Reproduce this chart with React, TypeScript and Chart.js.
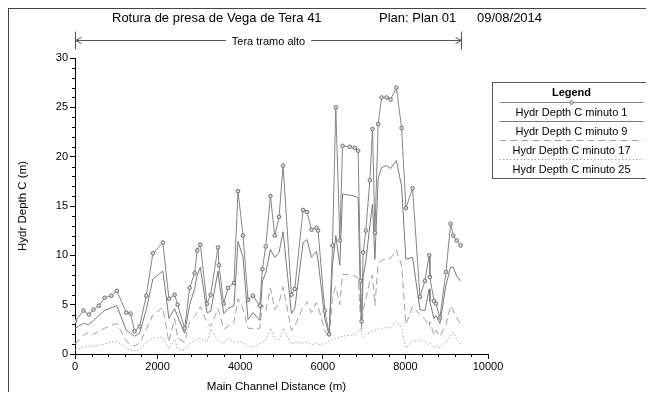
import React, { useEffect, useRef } from 'react';
import { Chart, registerables } from 'chart.js';

Chart.register(...registerables);

// Main channel distance (m) of each cross-section
const distances = [
  0, 206, 335, 448, 577, 715, 878, 1013, 1241, 1345, 1442, 1564, 1726, 1886, 2128, 2274, 2412, 2485, 2655, 2776,
  2897, 2958, 3035, 3195, 3285, 3462, 3486, 3600, 3704, 3850, 3947, 4068, 4189, 4310, 4473, 4538, 4618, 4732, 4836, 4941,
  5038, 5241, 5321, 5523, 5619, 5726, 5847, 5886, 6048, 6153, 6235, 6315, 6412, 6478, 6655, 6776, 6856, 6914, 6938, 6977,
  7042, 7139, 7204, 7261, 7341, 7423, 7544, 7641, 7782, 7908, 8012, 8174, 8352, 8473, 8577, 8594, 8691, 8739, 8836, 8982,
  9095, 9159, 9241, 9338,
];

const depthMin1 = [
  3.3, 4.4, 4.0, 4.5, 4.9, 5.7, 5.9, 6.4, 4.2, 4.1, 2.3, 2.8, 5.9, 10.2, 11.3, 5.6, 6.0, 5.0, 2.6, 6.7,
  8.2, 10.5, 11.1, 5.1, 6.0, 10.8, 9.0, 5.1, 6.7, 7.2, 16.5, 12.0, 5.5, 5.9, 4.9, 8.6, 10.9, 16.0, 12.0, 13.9,
  19.1, 6.0, 6.6, 14.6, 14.4, 12.6, 12.8, 12.5, 4.4, 2.0, 11.0, 25.0, 11.5, 21.1, 21.0, 20.9, 20.6, 7.4, 3.3, 10.3,
  12.5, 17.6, 22.8, 12.3, 23.3, 26.0, 26.0, 25.8, 27.0, 22.9, 14.8, 16.8, 5.8, 7.4, 10.0, 7.8, 5.4, 5.1, 3.7, 8.3,
  13.2, 12.0, 11.5, 11.0,
];

const depthMin9 = [
  2.6, 3.1, 3.0, 3.4, 3.9, 4.4, 4.7, 4.9, 2.4, 2.1, 1.8, 2.1, 4.5, 7.6, 8.4, 3.6, 4.6, 3.8, 2.1, 5.0,
  6.6, 8.0, 8.8, 4.2, 4.3, 8.4, 7.5, 4.1, 4.6, 4.9, 11.4, 9.8, 3.5, 4.2, 3.4, 7.4, 8.2, 10.6, 9.8, 10.3,
  12.4, 4.1, 4.6, 11.3, 11.6, 9.8, 10.4, 9.5, 3.6, 1.9, 9.0, 12.0, 9.0, 16.2, 16.1, 16.0, 15.8, 5.2, 2.9, 7.8,
  9.4, 13.0, 15.2, 9.6, 17.8, 18.9, 19.1, 18.8, 19.6, 17.0, 9.6, 9.8, 4.5, 4.4, 6.6, 5.3, 3.6, 3.9, 3.1, 7.0,
  8.8, 8.8, 7.9, 7.4,
];

const depthMin17 = [
  1.0, 1.9, 2.2, 2.0, 2.3, 2.6, 2.9, 3.1, 1.3, 1.0, 0.8, 1.1, 2.5, 4.0, 4.7, 1.2, 3.6, 1.6, 1.2, 3.3,
  3.8, 4.2, 4.8, 3.2, 2.8, 4.6, 4.3, 2.5, 2.8, 3.2, 5.6, 4.6, 2.6, 2.6, 2.6, 5.0, 4.4, 6.7, 4.5, 5.2,
  6.8, 2.4, 2.8, 4.8, 5.3, 4.2, 5.2, 4.8, 2.4, 1.6, 5.8, 6.8, 5.0, 8.1, 8.0, 7.9, 7.7, 3.5, 2.5, 4.5,
  5.5, 7.4, 8.0, 4.9, 9.2, 9.5, 9.6, 9.7, 10.5, 9.0, 3.0, 4.8, 4.0, 3.5, 2.8, 3.3, 1.9, 2.4, 1.8, 3.0,
  4.9, 4.4, 3.7, 3.0,
];

const depthMin25 = [
  0.4, 0.7, 0.8, 0.8, 0.9, 1.0, 1.2, 1.3, 0.6, 0.4, 0.3, 0.4, 1.2, 1.6, 1.7, 0.5, 1.5, 0.5, 0.4, 1.1,
  1.3, 1.5, 1.6, 1.2, 2.5, 1.4, 1.3, 1.1, 1.6, 1.2, 1.3, 1.1, 0.8, 0.7, 1.0, 1.2, 1.4, 2.6, 1.6, 1.4,
  2.6, 1.0, 1.2, 1.1, 1.2, 0.9, 1.1, 1.0, 1.0, 1.3, 1.5, 1.6, 1.7, 1.8, 1.9, 2.0, 2.3, 2.6, 2.0, 1.7,
  2.0, 2.2, 2.3, 2.4, 2.5, 2.6, 2.7, 2.6, 3.3, 2.7, 0.6, 1.3, 1.4, 1.2, 0.9, 1.1, 0.6, 0.9, 0.6, 1.2,
  1.9, 2.2, 1.5, 1.0,
];

const seriesLabels = [
  'Hydr Depth C minuto 1',
  'Hydr Depth C minuto 9',
  'Hydr Depth C minuto 17',
  'Hydr Depth C minuto 25',
];

const titleParts = ['Rotura de presa de Vega de Tera 41', 'Plan: Plan 01', '09/08/2014'];
const xAxisTitle = 'Main Channel Distance (m)';
const yAxisTitle = 'Hydr Depth C (m)';
const legendTitle = 'Legend';
const reachLabel = 'Tera tramo alto';
const reachStart = 0;
const reachEnd = 9338;

const FONT = '"Liberation Sans", Arial, sans-serif';

const seriesStyles = [
  { color: '#858585', dash: [] as number[], width: 1, marker: true },
  { color: '#7a7a7a', dash: [] as number[], width: 1, marker: false },
  { color: '#a0a0a0', dash: [7, 4], width: 1, marker: false },
  { color: '#a8a8a8', dash: [1.5, 2], width: 1, marker: false },
];

const seriesValues = [depthMin1, depthMin9, depthMin17, depthMin25];

const decorPlugin = {
  id: 'decor',
  afterDraw(chart: any) {
    const ctx = chart.ctx as CanvasRenderingContext2D;
    const area = chart.chartArea;
    const xs = chart.scales.x;
    const ys = chart.scales.y;
    ctx.save();

    // minor ticks
    ctx.strokeStyle = '#000';
    ctx.lineWidth = 1;
    ctx.beginPath();
    for (let v = 0; v <= 30; v++) {
      if (v % 5 === 0) continue;
      const y = Math.round(ys.getPixelForValue(v)) + 0.5;
      ctx.moveTo(area.left - 3, y);
      ctx.lineTo(area.left, y);
    }
    for (let d = 0; d <= 10000; d += 400) {
      if (d % 2000 === 0) continue;
      const x = Math.round(xs.getPixelForValue(d)) + 0.5;
      ctx.moveTo(x, area.bottom);
      ctx.lineTo(x, area.bottom + 3);
    }
    ctx.stroke();

    // title
    ctx.fillStyle = '#000';
    ctx.textBaseline = 'middle';
    ctx.textAlign = 'left';
    ctx.font = `13px ${FONT}`;
    const titleX = [103, 370, 468];
    titleParts.forEach((t, i) => ctx.fillText(t, titleX[i], 9));

    // axis titles
    ctx.font = `11.5px ${FONT}`;
    ctx.textAlign = 'center';
    ctx.fillText(xAxisTitle, (area.left + area.right) / 2 - 5, 378);
    ctx.save();
    ctx.translate(14, (area.top + area.bottom) / 2);
    ctx.rotate(-Math.PI / 2);
    ctx.fillText(yAxisTitle, 0, 0);
    ctx.restore();

    // reach annotation
    const x0 = Math.round(xs.getPixelForValue(reachStart)) + 0.5;
    const x1 = Math.round(xs.getPixelForValue(reachEnd)) + 0.5;
    const ay = 31.5;
    ctx.font = `11px ${FONT}`;
    const tw = ctx.measureText(reachLabel).width;
    const mid = (x0 + x1) / 2;
    ctx.strokeStyle = '#555';
    ctx.beginPath();
    ctx.moveTo(x0, ay - 9);
    ctx.lineTo(x0, ay + 9);
    ctx.moveTo(x1, ay - 9);
    ctx.lineTo(x1, ay + 9);
    ctx.moveTo(x0, ay);
    ctx.lineTo(mid - tw / 2 - 6, ay);
    ctx.moveTo(mid + tw / 2 + 6, ay);
    ctx.lineTo(x1, ay);
    ctx.moveTo(x0 + 6, ay - 3);
    ctx.lineTo(x0, ay);
    ctx.lineTo(x0 + 6, ay + 3);
    ctx.moveTo(x1 - 6, ay - 3);
    ctx.lineTo(x1, ay);
    ctx.lineTo(x1 - 6, ay + 3);
    ctx.stroke();
    ctx.fillStyle = '#000';
    ctx.fillText(reachLabel, mid, ay + 1);

    // legend box
    const lx = 483.5;
    const lyTop = 73.5;
    const lw = 158;
    const lh = 96;
    ctx.strokeStyle = '#555';
    ctx.lineWidth = 1;
    ctx.strokeRect(lx, lyTop, lw, lh);
    ctx.font = `bold 11px ${FONT}`;
    ctx.fillText(legendTitle, lx + lw / 2, lyTop + 10);
    ctx.font = `11px ${FONT}`;
    const rowH = 19;
    seriesLabels.forEach((label, i) => {
      const st = seriesStyles[i];
      const lineY = Math.round(lyTop + 19 + i * rowH) + 0.5;
      ctx.strokeStyle = st.color;
      ctx.setLineDash(st.dash);
      ctx.beginPath();
      ctx.moveTo(lx + 7, lineY);
      ctx.lineTo(lx + lw - 7, lineY);
      ctx.stroke();
      ctx.setLineDash([]);
      if (st.marker) {
        ctx.beginPath();
        ctx.arc(lx + lw / 2, lineY, 1.8, 0, Math.PI * 2);
        ctx.fillStyle = '#ddd';
        ctx.fill();
        ctx.strokeStyle = '#777';
        ctx.stroke();
      }
      ctx.fillStyle = '#000';
      ctx.fillText(label, lx + lw / 2, lineY + 10);
    });

    ctx.restore();
  },
};

export default function App() {
  const canvasRef = useRef<HTMLCanvasElement | null>(null);

  useEffect(() => {
    if (!canvasRef.current) return;
    const datasets = seriesValues.map((vals, i) => {
      const st = seriesStyles[i];
      return {
        label: seriesLabels[i],
        data: distances.map((d, j) => ({ x: d, y: vals[j] })),
        borderColor: st.color,
        borderWidth: st.width,
        borderDash: st.dash,
        pointRadius: st.marker ? 1.8 : 0,
        pointBackgroundColor: '#dcdcdc',
        pointBorderColor: '#6e6e6e',
        pointBorderWidth: 1,
        fill: false,
        tension: 0,
        order: i,
      };
    });

    const chart = new Chart(canvasRef.current, {
      type: 'line',
      data: { datasets },
      options: {
        responsive: false,
        animation: false,
        layout: { padding: { top: 49, right: 158, left: 0, bottom: 0 } },
        plugins: {
          legend: { display: false },
          title: { display: false },
          tooltip: { enabled: false },
        },
        scales: {
          x: {
            type: 'linear',
            min: 0,
            max: 10000,
            ticks: {
              stepSize: 2000,
              color: '#000',
              padding: 1,
              maxRotation: 0,
              font: { family: FONT, size: 11 },
              callback: (v: any) => String(v),
            },
            grid: { drawOnChartArea: false, drawTicks: true, tickLength: 5, color: '#000' },
            border: { color: '#000' },
            afterFit: (s: any) => {
              s.height = 38;
            },
          },
          y: {
            type: 'linear',
            min: 0,
            max: 30,
            ticks: {
              stepSize: 5,
              color: '#000',
              padding: 2,
              font: { family: FONT, size: 11 },
            },
            grid: { drawOnChartArea: false, drawTicks: true, tickLength: 5, color: '#000' },
            border: { color: '#000' },
            afterFit: (s: any) => {
              s.width = 66;
            },
          },
        },
      },
      plugins: [decorPlugin],
    });
    return () => chart.destroy();
  }, []);

  return (
    <div
      style={{
        width: 637,
        height: 383,
        borderLeft: '1px solid #444',
        borderTop: '1px solid #444',
        background: '#fff',
      }}
    >
      <canvas ref={canvasRef} width={637} height={383} style={{ display: 'block' }} />
    </div>
  );
}
